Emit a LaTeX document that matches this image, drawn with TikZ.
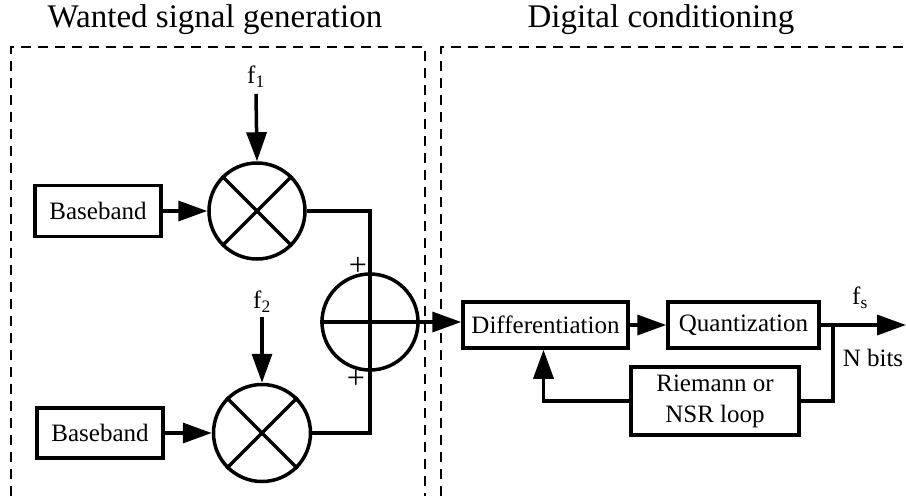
\documentclass[tikz,border=0pt]{standalone}
\usepackage{fontspec}
\setmainfont{Liberation Serif}
\usetikzlibrary{arrows.meta}
\begin{document}
\begin{tikzpicture}[x=1pt,y=-1pt,
  thk/.style={line width=3.5pt},
  blk/.style={draw,thk,rectangle,inner sep=0pt,font=\fontsize{25}{31}\selectfont,align=center},
  mix/.style={draw,thk,circle,inner sep=0pt},
  arr/.style={thk,-{Triangle[length=29pt,width=20pt]}},
  lbl/.style={font=\fontsize{25}{30}\selectfont,inner sep=0pt},
  plus/.style={font=\fontsize{32}{32}\selectfont,inner sep=0pt},
  ttl/.style={font=\fontsize{33}{38}\selectfont,inner sep=0pt},
  region/.style={line width=1.6pt,dash pattern=on 10pt off 7pt}
]
\useasboundingbox (0,0) rectangle (906,496);
% regions
\draw[region] (11,496) -- (11,47) -- (425,47) -- (425,496);
\draw[region] (441,496) -- (441,47) -- (906,47);
\node[ttl] (t1) at (215,20) {Wanted signal generation};
\node[ttl] (t2) at (661,20) {Digital conditioning};
% blocks
\node[blk,minimum width=126pt,minimum height=51pt] (bb1) at (98,211) {Baseband};
\node[blk,minimum width=126pt,minimum height=50pt] (bb2) at (100,433) {Baseband};
\node[mix,minimum size=96pt] (mx1) at (257,211) {};
\node[mix,minimum size=97pt] (mx2) at (262,433) {};
\node[mix,minimum size=96pt] (add) at (370,322) {};
\node[blk,minimum width=165pt,minimum height=46pt] (diff) at (545.5,325) {Differentiation};
\node[blk,minimum width=151pt,minimum height=46pt] (quant) at (743.5,325) {Quantization};
\node[blk,minimum width=168pt,minimum height=68pt] (riem) at (715,401) {Riemann or\\NSR loop};
% labels
\node[lbl] (f1) at (256,77) {f\textsubscript{1}};
\node[lbl] (f2) at (262,302) {f\textsubscript{2}};
\node[lbl] (fs) at (860,298) {f\textsubscript{s}};
\node[lbl] (nb) at (873,358) {N bits};
\node[plus] (p1) at (358,266) {+};
\node[plus] (p2) at (356,379) {+};
% mixer crosses
\draw[thk] (mx1.north east) -- (mx1.south west) (mx1.north west) -- (mx1.south east);
\draw[thk] (mx2.north east) -- (mx2.south west) (mx2.north west) -- (mx2.south east);
\draw[thk] (add.west) -- (add.east) (add.north) -- (add.south);
% connectors
\draw[arr] (bb1.east) -- (mx1.west);
\draw[arr] (bb2.east) -- (mx2.west);
\draw[arr] (f1.south) ++(0,6) -- (mx1.north);
\draw[arr] (f2.south) ++(0,4) -- (mx2.north);
\draw[thk] (mx1.east) -| (add.north);
\draw[thk] (mx2.east) -| (add.south);
\draw[arr] (add.east) -- (add.east -| diff.west);
\draw[arr] (diff.east) -- (quant.west);
\coordinate (out) at (906,325);
\coordinate (j) at (833,325);
\draw[arr] (quant.east) -- (out);
\draw[thk] (j) |- (riem.east);
\draw[arr] (riem.west) -| ([xshift=-2pt]diff.south);
\end{tikzpicture}
\end{document}
